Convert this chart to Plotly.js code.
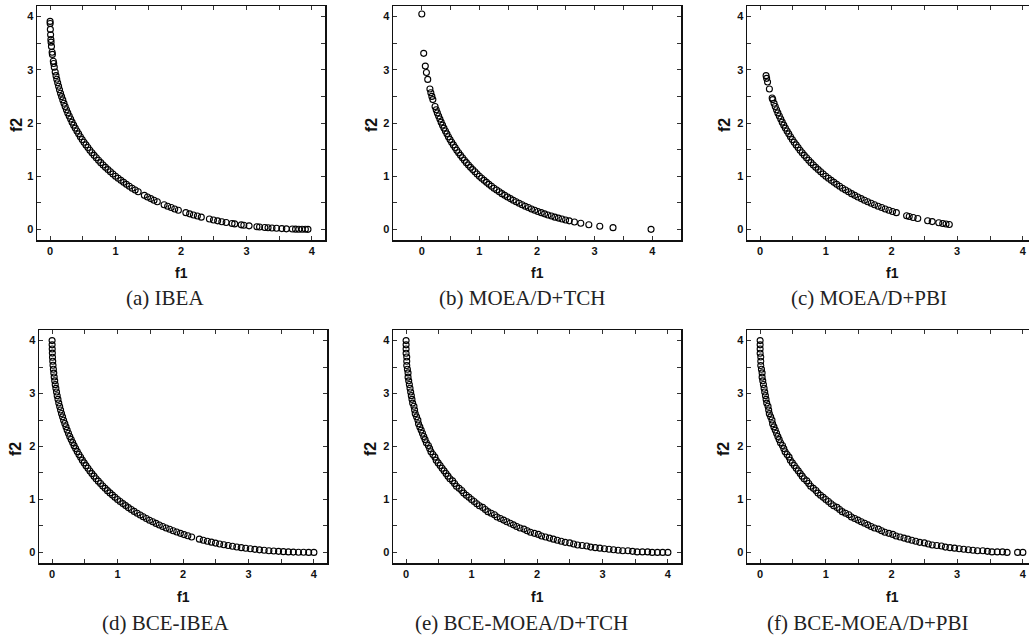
<!DOCTYPE html>
<html><head><meta charset="utf-8">
<script src="https://cdn.plot.ly/plotly-3.0.1.min.js"></script>
<style>html,body{margin:0;padding:0;overflow:hidden;background:#fff}#chart{width:1040px;height:637px}</style>
</head><body><div id="chart"></div><script>
// (a) IBEA
const ibeaF1 = [0.000,0.001,0.004,0.008,0.012,0.015,0.021,0.031,0.035,0.049,0.055,0.064,
 0.078,0.090,0.102,0.116,0.130,0.144,0.160,0.176,0.194,0.212,0.230,0.250,0.270,0.292,0.314,0.336,0.360,0.384,0.410,0.436,0.462,0.490,0.518,0.548,0.578,0.608,0.640,0.672,0.706,0.740,0.774,0.810,0.846,0.884,0.922,0.960,1.000,1.040,1.082,1.124,1.166,1.210,1.254,1.300,1.346,1.440,1.488,1.538,1.588,1.638,1.742,1.796,1.850,1.904,1.960,2.074,2.132,2.190,2.250,2.310,2.434,2.496,2.560,2.624,2.690,
 2.78,2.82,2.92,2.96,3.04,3.16,3.20,3.28,3.33,3.39,3.46,3.54,3.61,3.70,3.75,3.80,3.85,3.90,3.94];
const ibeaF2 = [3.91,3.87,3.76,3.66,3.57,3.52,3.44,3.33,3.29,3.16,3.12,3.05,
 2.958,2.890,2.822,2.756,2.690,2.624,2.560,2.496,2.434,2.372,2.310,2.250,2.190,2.132,2.074,2.016,1.960,1.904,1.850,1.796,1.742,1.690,1.638,1.588,1.538,1.488,1.440,1.392,1.346,1.300,1.254,1.210,1.166,1.124,1.082,1.040,1.000,0.960,0.922,0.884,0.846,0.810,0.774,0.740,0.706,0.640,0.608,0.578,0.548,0.518,0.462,0.436,0.410,0.384,0.360,0.314,0.292,0.270,0.250,0.230,0.194,0.176,0.160,0.144,0.130,
 0.111,0.103,0.085,0.078,0.066,0.049,0.045,0.036,0.031,0.025,0.020,0.014,0.010,0.006,0.004,0.003,0.001,0.001,0.000];

// (b) MOEA/D+TCH
const tchF1 = [0.000,0.033,0.061,0.080,0.103,0.141,0.157,0.175,0.192,
 0.230,0.250,0.270,0.292,0.314,0.336,0.360,0.384,0.410,0.436,0.462,0.490,0.518,0.548,0.578,0.608,0.640,0.672,0.706,0.740,0.774,0.810,0.846,0.884,0.922,0.960,1.000,1.040,1.082,1.124,1.166,1.210,1.254,1.300,1.346,1.392,1.440,1.488,1.538,1.588,1.638,1.690,1.742,1.796,1.850,1.904,1.960,2.016,2.074,2.132,2.190,2.250,2.310,2.372,2.434,2.496,2.560,
 2.65,2.76,2.90,3.09,3.32,3.98];
const tchF2 = [4.05,3.31,3.07,2.95,2.82,2.64,2.57,2.50,2.44,
 2.310,2.250,2.190,2.132,2.074,2.016,1.960,1.904,1.850,1.796,1.742,1.690,1.638,1.588,1.538,1.488,1.440,1.392,1.346,1.300,1.254,1.210,1.166,1.124,1.082,1.040,1.000,0.960,0.922,0.884,0.846,0.810,0.774,0.740,0.706,0.672,0.640,0.608,0.578,0.548,0.518,0.490,0.462,0.436,0.410,0.384,0.360,0.336,0.314,0.292,0.270,0.250,0.230,0.212,0.194,0.176,0.160,
 0.138,0.115,0.088,0.059,0.032,0.000];

// (c) MOEA/D+PBI
const pbiF1 = [0.090,0.099,0.113,0.141,0.183,0.192,
 0.212,0.230,0.250,0.270,0.292,0.314,0.336,0.360,0.384,0.410,0.436,0.462,0.490,0.518,0.548,0.578,0.608,0.640,0.672,0.706,0.740,0.774,0.810,0.846,0.884,0.922,0.960,1.000,1.040,1.082,1.124,1.166,1.210,1.254,1.300,1.346,1.392,1.440,1.488,1.538,1.588,1.638,1.690,1.742,1.796,1.850,1.904,1.960,2.016,2.074,
 2.23,2.27,2.33,2.40,2.55,2.62,2.72,2.78,2.83,2.88];
const pbiF2 = [2.89,2.84,2.77,2.64,2.47,2.44,
 2.372,2.310,2.250,2.190,2.132,2.074,2.016,1.960,1.904,1.850,1.796,1.742,1.690,1.638,1.588,1.538,1.488,1.440,1.392,1.346,1.300,1.254,1.210,1.166,1.124,1.082,1.040,1.000,0.960,0.922,0.884,0.846,0.810,0.774,0.740,0.706,0.672,0.640,0.608,0.578,0.548,0.518,0.490,0.462,0.436,0.410,0.384,0.360,0.336,0.314,
 0.257,0.243,0.224,0.203,0.163,0.146,0.123,0.111,0.101,0.092];

// (d) BCE-IBEA
const bceIbeaF1 = [0,0.0004,0.002,0.004,0.006,0.010,0.014,0.020,0.026,0.032,0.040,0.048,0.058,0.068,0.078,0.090,0.102,0.116,0.130,0.144,0.160,0.176,0.194,0.212,0.230,0.250,0.270,0.292,0.314,0.336,0.360,0.384,0.410,0.436,0.462,0.490,0.518,0.548,0.578,0.608,0.640,0.672,0.706,0.740,0.774,0.810,0.846,0.884,0.922,0.960,1.000,1.040,1.082,1.124,1.166,1.210,1.254,1.300,1.346,1.392,1.440,1.488,1.538,1.588,1.638,1.690,1.742,1.796,1.850,1.904,1.960,2.016,2.074,2.132,2.250,2.310,2.372,2.434,2.496,2.560,2.624,2.690,2.756,2.822,2.890,2.958,3.028,3.098,3.168,3.240,3.312,3.386,3.460,3.534,3.610,3.686,3.764,3.842,3.920,4.000];
const bceIbeaF2 = [4.000,3.920,3.842,3.764,3.686,3.610,3.534,3.460,3.386,3.312,3.240,3.168,3.098,3.028,2.958,2.890,2.822,2.756,2.690,2.624,2.560,2.496,2.434,2.372,2.310,2.250,2.190,2.132,2.074,2.016,1.960,1.904,1.850,1.796,1.742,1.690,1.638,1.588,1.538,1.488,1.440,1.392,1.346,1.300,1.254,1.210,1.166,1.124,1.082,1.040,1.000,0.960,0.922,0.884,0.846,0.810,0.774,0.740,0.706,0.672,0.640,0.608,0.578,0.548,0.518,0.490,0.462,0.436,0.410,0.384,0.360,0.336,0.314,0.292,0.250,0.230,0.212,0.194,0.176,0.160,0.144,0.130,0.116,0.102,0.090,0.078,0.068,0.058,0.048,0.040,0.032,0.026,0.020,0.014,0.010,0.006,0.004,0.002,0.000,0];

// (e) BCE-MOEA/D+TCH
const bceTchF1 = [0,0,0,0,0.01,0.01,0.01,0.02,0.03,0.03,0.04,0.05,0.06,0.07,0.08,0.09,0.10,0.12,0.13,0.14,0.16,0.18,0.19,0.21,0.23,0.25,0.27,0.29,0.31,0.34,0.36,0.38,0.41,0.44,0.46,0.49,0.52,0.55,0.58,0.61,0.64,0.67,0.71,0.74,0.77,0.81,0.85,0.88,0.92,0.96,1.00,1.04,1.08,1.12,1.17,1.21,1.25,1.30,1.35,1.39,1.44,1.49,1.54,1.59,1.64,1.69,1.74,1.80,1.85,1.90,1.96,2.02,2.07,2.13,2.19,2.25,2.31,2.37,2.43,2.50,2.56,2.62,2.69,2.76,2.82,2.89,2.96,3.03,3.10,3.17,3.24,3.31,3.39,3.46,3.53,3.61,3.69,3.76,3.84,3.92,4.00];
const bceTchF2 = [4.00,3.92,3.84,3.76,3.69,3.61,3.53,3.46,3.39,3.31,3.24,3.17,3.10,3.03,2.96,2.89,2.82,2.76,2.69,2.62,2.56,2.50,2.43,2.37,2.31,2.25,2.19,2.13,2.07,2.02,1.96,1.90,1.85,1.80,1.74,1.69,1.64,1.59,1.54,1.49,1.44,1.39,1.35,1.30,1.25,1.21,1.17,1.12,1.08,1.04,1.00,0.96,0.92,0.88,0.85,0.81,0.77,0.74,0.71,0.67,0.64,0.61,0.58,0.55,0.52,0.49,0.46,0.44,0.41,0.38,0.36,0.34,0.31,0.29,0.27,0.25,0.23,0.21,0.19,0.18,0.16,0.14,0.13,0.12,0.10,0.09,0.08,0.07,0.06,0.05,0.04,0.03,0.03,0.02,0.01,0.01,0.01,0,0,0,0];

// (f) BCE-MOEA/D+PBI
const bcePbiF1 = [0,0,0,0,0.01,0.01,0.01,0.02,0.03,0.03,0.04,0.05,0.06,0.07,0.08,0.09,0.10,0.12,0.13,0.14,0.16,0.18,0.19,0.21,0.23,0.25,0.27,0.29,0.31,0.34,0.36,0.38,0.41,0.44,0.46,0.49,0.52,0.55,0.58,0.61,0.64,0.67,0.71,0.74,0.77,0.81,0.85,0.88,0.92,0.96,1.00,1.04,1.08,1.12,1.17,1.21,1.25,1.30,1.35,1.39,1.44,1.49,1.54,1.59,1.64,1.69,1.74,1.80,1.85,1.90,1.96,2.02,2.07,2.13,2.19,2.25,2.31,2.37,2.43,2.50,2.56,2.62,2.69,2.76,2.82,2.89,2.96,3.03,3.10,3.17,3.24,3.31,3.39,3.46,3.53,3.61,3.69,3.76,3.92,4.00];
const bcePbiF2 = [4.00,3.92,3.84,3.76,3.69,3.61,3.53,3.46,3.39,3.31,3.24,3.17,3.10,3.03,2.96,2.89,2.82,2.76,2.69,2.62,2.56,2.50,2.43,2.37,2.31,2.25,2.19,2.13,2.07,2.02,1.96,1.90,1.85,1.80,1.74,1.69,1.64,1.59,1.54,1.49,1.44,1.39,1.35,1.30,1.25,1.21,1.17,1.12,1.08,1.04,1.00,0.96,0.92,0.88,0.85,0.81,0.77,0.74,0.71,0.67,0.64,0.61,0.58,0.55,0.52,0.49,0.46,0.44,0.41,0.38,0.36,0.34,0.31,0.29,0.27,0.25,0.23,0.21,0.19,0.18,0.16,0.14,0.13,0.12,0.10,0.09,0.08,0.07,0.06,0.05,0.04,0.03,0.03,0.02,0.01,0.01,0.01,0,0,0];

const captions = ['(a) IBEA','(b) MOEA/D+TCH','(c) MOEA/D+PBI','(d) BCE-IBEA','(e) BCE-MOEA/D+TCH','(f) BCE-MOEA/D+PBI'];
const xTitle = 'f1', yTitle = 'f2';
const tickVals = [0,1,2,3,4];
const tickText = ['0','1','2','3','4'];

const series = [
  [ibeaF1, ibeaF2], [tchF1, tchF2], [pbiF1, pbiF2],
  [bceIbeaF1, bceIbeaF2], [bceTchF1, bceTchF2], [bcePbiF1, bcePbiF2]
];

const W = 1040, H = 637;
// pixel boxes [left,right,top,bottom], x ranges, label positions
const panels = [
  {box:[37,325,6,240],   xr:[-0.2,4.2], f2x:16,  f2y:125, f1x:181, f1y:273, cx:165, cy:298},
  {box:[393,681,6,240],  xr:[-0.5,4.5], f2x:371, f2y:125, f1x:537, f1y:273, cx:522, cy:298},
  {box:[747,1036,6,240], xr:[-0.2,4.2], f2x:724, f2y:125, f1x:892, f1y:273, cx:869, cy:298},
  {box:[39,327,330,563], xr:[-0.2,4.2], f2x:16,  f2y:449, f1x:183, f1y:597, cx:165, cy:623},
  {box:[393,681,330,563],xr:[-0.2,4.2], f2x:371, f2y:449, f1x:537, f1y:597, cx:521, cy:623},
  {box:[747,1036,330,563],xr:[-0.2,4.2],f2x:724, f2y:449, f1x:892, f1y:597, cx:867, cy:623}
];

const tickFont = {family:'Liberation Sans, Arial, sans-serif', size:11, weight:'bold', color:'#111'};
const f1Font = {family:'Liberation Sans, Arial, sans-serif', size:14, weight:'bold', color:'#111'};
const f2Font = {family:'Liberation Sans, Arial, sans-serif', size:16, weight:'bold', color:'#111'};
const capFont = {family:'Liberation Serif, Times New Roman, serif', size:21, color:'#222'};

function axis(range, domain, anchor) {
  return {
    range: range, domain: domain, anchor: anchor,
    showline: true, linecolor: '#111', linewidth: 1.5, mirror: 'ticks',
    ticks: 'inside', ticklen: 4, tickwidth: 1, tickcolor: '#333',
    tickmode: 'array', tickvals: tickVals, ticktext: tickText,
    minor: {tickmode:'linear', tick0: 0.5, dtick: 1, ticks: 'inside', ticklen: 4, tickwidth: 1, tickcolor: '#333', showgrid:false},
    showgrid: false, zeroline: false, tickfont: tickFont, fixedrange: true
  };
}

const data = [];
const layout = {
  width: W, height: H, margin: {l:0, r:0, t:0, b:0},
  paper_bgcolor: '#fff', plot_bgcolor: '#fff', showlegend: false,
  annotations: []
};

panels.forEach((p, i) => {
  const n = i === 0 ? '' : String(i + 1);
  const [l, r, t, b] = p.box;
  const xd = [l / W, r / W], yd = [1 - b / H, 1 - t / H];
  layout['xaxis' + n] = axis(p.xr, xd, 'y' + n);
  layout['yaxis' + n] = axis([-0.2, 4.2], yd, 'x' + n);
  data.push({
    type: 'scatter', mode: 'markers', x: series[i][0], y: series[i][1],
    xaxis: 'x' + n, yaxis: 'y' + n, cliponaxis: false,
    marker: {symbol: 'circle-open', size: 6, color: '#000', line: {width: 1.1, color: '#000'}},
    hoverinfo: 'skip'
  });
  layout.annotations.push(
    {text: xTitle, xref:'paper', yref:'paper', x: p.f1x / W, y: 1 - p.f1y / H, xanchor:'center', yanchor:'middle', showarrow:false, font: f1Font, borderpad:0},
    {text: yTitle, xref:'paper', yref:'paper', x: p.f2x / W, y: 1 - p.f2y / H, xanchor:'center', yanchor:'middle', showarrow:false, textangle:-90, font: f2Font, borderpad:0},
    {text: captions[i], xref:'paper', yref:'paper', x: p.cx / W, y: 1 - p.cy / H, xanchor:'center', yanchor:'middle', showarrow:false, font: capFont, borderpad:0}
  );
});

Plotly.newPlot('chart', data, layout, {staticPlot: true, displayModeBar: false});
</script></body></html>
